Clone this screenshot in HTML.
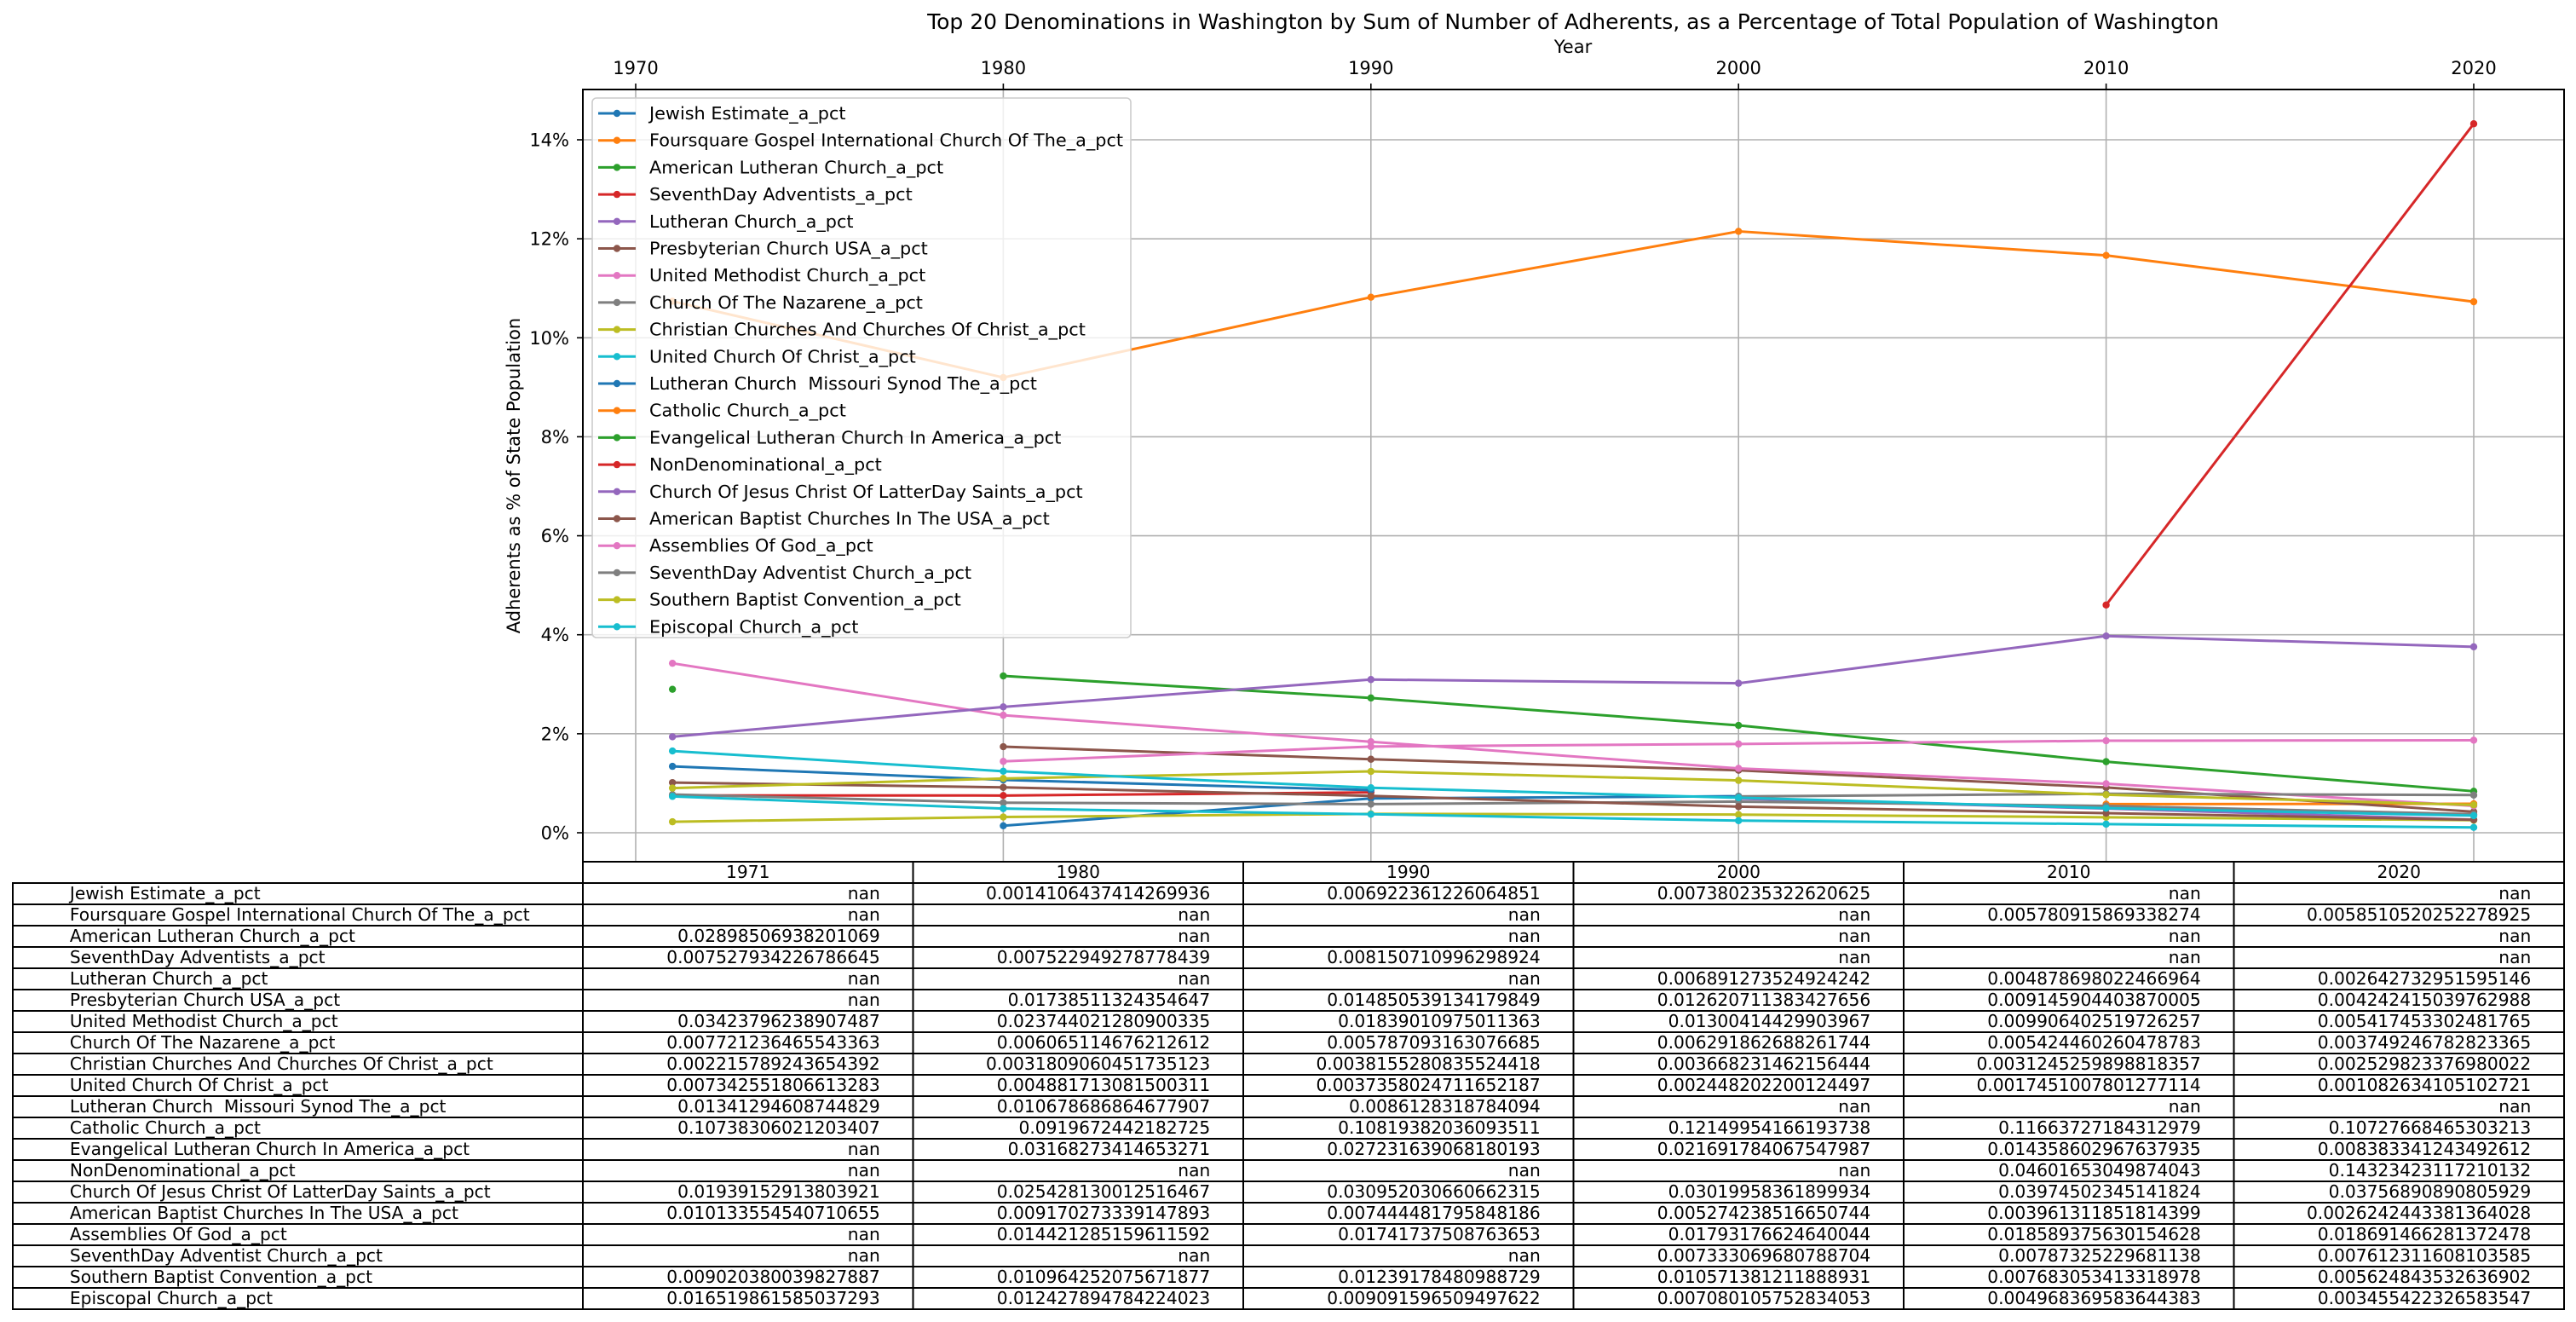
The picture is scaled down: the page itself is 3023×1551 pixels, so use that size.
<!DOCTYPE html>
<html><head><meta charset="utf-8"><style>
html,body{margin:0;padding:0;background:#fff;}
svg{display:block;font-family:"DejaVu Sans","Liberation Sans",sans-serif;}
text{white-space:pre;}
</style></head><body>
<svg id="chart" width="3023" height="1551" viewBox="0 0 3023 1551" xmlns="http://www.w3.org/2000/svg" xml:space="preserve"></svg>
<script>
const years = [1971, 1980, 1990, 2000, 2010, 2020];
const xTicks = [1970, 1980, 1990, 2000, 2010, 2020];
const yTicks = [0, 2, 4, 6, 8, 10, 12, 14];
const seriesNames = [
"Jewish Estimate_a_pct","Foursquare Gospel International Church Of The_a_pct","American Lutheran Church_a_pct","SeventhDay Adventists_a_pct","Lutheran Church_a_pct","Presbyterian Church USA_a_pct","United Methodist Church_a_pct","Church Of The Nazarene_a_pct","Christian Churches And Churches Of Christ_a_pct","United Church Of Christ_a_pct","Lutheran Church  Missouri Synod The_a_pct","Catholic Church_a_pct","Evangelical Lutheran Church In America_a_pct","NonDenominational_a_pct","Church Of Jesus Christ Of LatterDay Saints_a_pct","American Baptist Churches In The USA_a_pct","Assemblies Of God_a_pct","SeventhDay Adventist Church_a_pct","Southern Baptist Convention_a_pct","Episcopal Church_a_pct"];
const s01 = ["nan","0.0014106437414269936","0.006922361226064851","0.007380235322620625","nan","nan"];
const s02 = ["nan","nan","nan","nan","0.005780915869338274","0.0058510520252278925"];
const s03 = ["0.02898506938201069","nan","nan","nan","nan","nan"];
const s04 = ["0.007527934226786645","0.007522949278778439","0.008150710996298924","nan","nan","nan"];
const s05 = ["nan","nan","nan","0.006891273524924242","0.004878698022466964","0.002642732951595146"];
const s06 = ["nan","0.01738511324354647","0.014850539134179849","0.012620711383427656","0.009145904403870005","0.004242415039762988"];
const s07 = ["0.03423796238907487","0.023744021280900335","0.01839010975011363","0.01300414429903967","0.009906402519726257","0.005417453302481765"];
const s08 = ["0.007721236465543363","0.006065114676212612","0.005787093163076685","0.006291862688261744","0.005424460260478783","0.003749246782823365"];
const s09 = ["0.002215789243654392","0.0031809060451735123","0.0038155280835524418","0.003668231462156444","0.0031245259898818357","0.002529823376980022"];
const s10 = ["0.007342551806613283","0.004881713081500311","0.0037358024711652187","0.002448202200124497","0.0017451007801277114","0.001082634105102721"];
const s11 = ["0.01341294608744829","0.010678686864677907","0.0086128318784094","nan","nan","nan"];
const s12 = ["0.10738306021203407","0.0919672442182725","0.10819382036093511","0.12149954166193738","0.11663727184312979","0.10727668465303213"];
const s13 = ["nan","0.03168273414653271","0.027231639068180193","0.021691784067547987","0.014358602967637935","0.008383341243492612"];
const s14 = ["nan","nan","nan","nan","0.04601653049874043","0.14323423117210132"];
const s15 = ["0.01939152913803921","0.025428130012516467","0.030952030660662315","0.03019958361899934","0.03974502345141824","0.03756890890805929"];
const s16 = ["0.010133554540710655","0.009170273339147893","0.007444481795848186","0.005274238516650744","0.003961311851814399","0.0026242443381364028"];
const s17 = ["nan","0.014421285159611592","0.01741737508763653","0.01793176624640044","0.018589375630154628","0.018691466281372478"];
const s18 = ["nan","nan","nan","0.007333069680788704","0.00787325229681138","0.007612311608103585"];
const s19 = ["0.009020380039827887","0.010964252075671877","0.01239178480988729","0.010571381211888931","0.007683053413318978","0.005624843532636902"];
const s20 = ["0.016519861585037293","0.012427894784224023","0.009091596509497622","0.007080105752834053","0.004968369583644383","0.003455422326583547"];
const seriesValues = [s01,s02,s03,s04,s05,s06,s07,s08,s09,s10,s11,s12,s13,s14,s15,s16,s17,s18,s19,s20];

const palette = ["#1f77b4","#ff7f0e","#2ca02c","#d62728","#9467bd","#8c564b","#e377c2","#7f7f7f","#bcbd22","#17becf"];
const NS = "http://www.w3.org/2000/svg";
const svg = document.getElementById("chart");
const L = 684, R = 3009, T = 105, B = 1011;
function xScale(yr){ return 746 + (yr - 1970) * (2903 - 746) / 50; }
function yScale(p){ return 977 - p * (977 - 164) / 14; }
function mk(tag, attrs, parent){
  const e = document.createElementNS(NS, tag);
  for (const k in attrs) e.setAttribute(k, attrs[k]);
  (parent || svg).appendChild(e);
  return e;
}
let t = mk("text", {x:1846, y:34, "text-anchor":"middle", "font-size":25, fill:"#000"});


t.textContent = "Top 20 Denominations in Washington by Sum of Number of Adherents, as a Percentage of Total Population of Washington";
t = mk("text", {x:1846, y:62, "text-anchor":"middle", "font-size":21, fill:"#000"});


t.textContent = "Year";
t = mk("text", {x:0, y:0, "text-anchor":"middle", "font-size":21, fill:"#000", transform:"translate(610,558) rotate(-90)"});


t.textContent = "Adherents as % of State Population";

const grid = mk("g", {});


xTicks.forEach(yr => {
  const x = xScale(yr);
  mk("line", {x1:x, x2:x, y1:T, y2:B, stroke:"#b0b0b0", "stroke-width":1.6}, grid);
  mk("line", {x1:x, x2:x, y1:T-7, y2:T, stroke:"#000", "stroke-width":1.6}, grid);
  const lab = mk("text", {x:x, y:87, "text-anchor":"middle", "font-size":21, fill:"#000"});
  
  
  lab.textContent = String(yr);
});
yTicks.forEach(p => {
  const y = yScale(p);
  mk("line", {x1:L, x2:R, y1:y, y2:y, stroke:"#b0b0b0", "stroke-width":1.6}, grid);
  mk("line", {x1:L-7, x2:L, y1:y, y2:y, stroke:"#000", "stroke-width":1.6}, grid);
  const lab = mk("text", {x:668, y:y+7.5, "text-anchor":"end", "font-size":21, fill:"#000"});
  
  
  lab.textContent = p + "%";
});

seriesValues.forEach((vals, i) => {
  const col = palette[i % 10];
  const g = mk("g", {});
  
  
  let seg = [];
  const flush = () => {
    if (seg.length > 1) mk("polyline", {points: seg.join(" "), fill:"none", stroke:col, "stroke-width":3, "stroke-linejoin":"round"}, g);
    seg = [];
  };
  vals.forEach((v, j) => {
    const n = parseFloat(v);
    if (isNaN(n)) { flush(); return; }
    seg.push(xScale(years[j]) + "," + yScale(n * 100));
  });
  flush();
  vals.forEach((v, j) => {
    const n = parseFloat(v);
    if (isNaN(n)) return;
    const c = mk("circle", {cx:xScale(years[j]), cy:yScale(n*100), r:4.2, fill:col}, g);
    
    
  });
});

const sp = mk("rect", {x:L, y:T, width:R-L, height:B-T, fill:"none", stroke:"#000", "stroke-width":2});



const lg = mk("g", {});


mk("rect", {x:695, y:115, width:632, height:633, rx:5, fill:"#fff", "fill-opacity":0.8, stroke:"#cccccc", "stroke-width":1.6}, lg);
seriesNames.forEach((nm, i) => {
  const y = 133 + i * 31.7;
  const col = palette[i % 10];
  const e = mk("g", {}, lg);
  
  
  mk("line", {x1:702, x2:746, y1:y, y2:y, stroke:col, "stroke-width":3}, e);
  mk("circle", {cx:724, cy:y, r:4.2, fill:col}, e);
  const tx = mk("text", {x:762, y:y+7, "font-size":20.8, fill:"#000"}, e);
  tx.textContent = nm;
});

const tbl = mk("g", {});


const colW = (R - L) / 6, rowH = 25, hdrTop = 1011;
years.forEach((yr, j) => {
  const x0 = L + j * colW;
  mk("rect", {x:x0, y:hdrTop, width:colW, height:rowH, fill:"#fff", stroke:"#000", "stroke-width":2}, tbl);
  const h = mk("text", {x:x0 + colW/2, y:hdrTop + 19, "text-anchor":"middle", "font-size":20.2, fill:"#000"}, tbl);
  
  
  h.textContent = String(yr);
});
seriesNames.forEach((nm, i) => {
  const y0 = hdrTop + rowH * (i + 1);
  mk("rect", {x:15, y:y0, width:L-15, height:rowH, fill:"#fff", stroke:"#000", "stroke-width":2}, tbl);
  const lt = mk("text", {x:15 + (L-15)*0.1, y:y0 + 19, "font-size":20.2, fill:"#000"}, tbl);
  
  
  lt.textContent = nm;
  seriesValues[i].forEach((v, j) => {
    const x0 = L + j * colW;
    mk("rect", {x:x0, y:y0, width:colW, height:rowH, fill:"#fff", stroke:"#000", "stroke-width":2}, tbl);
    const ct = mk("text", {x:x0 + colW*0.9, y:y0 + 19, "text-anchor":"end", "font-size":20.2, fill:"#000"}, tbl);
    
    
    ct.textContent = v;
  });
});
</script>
</body></html>
